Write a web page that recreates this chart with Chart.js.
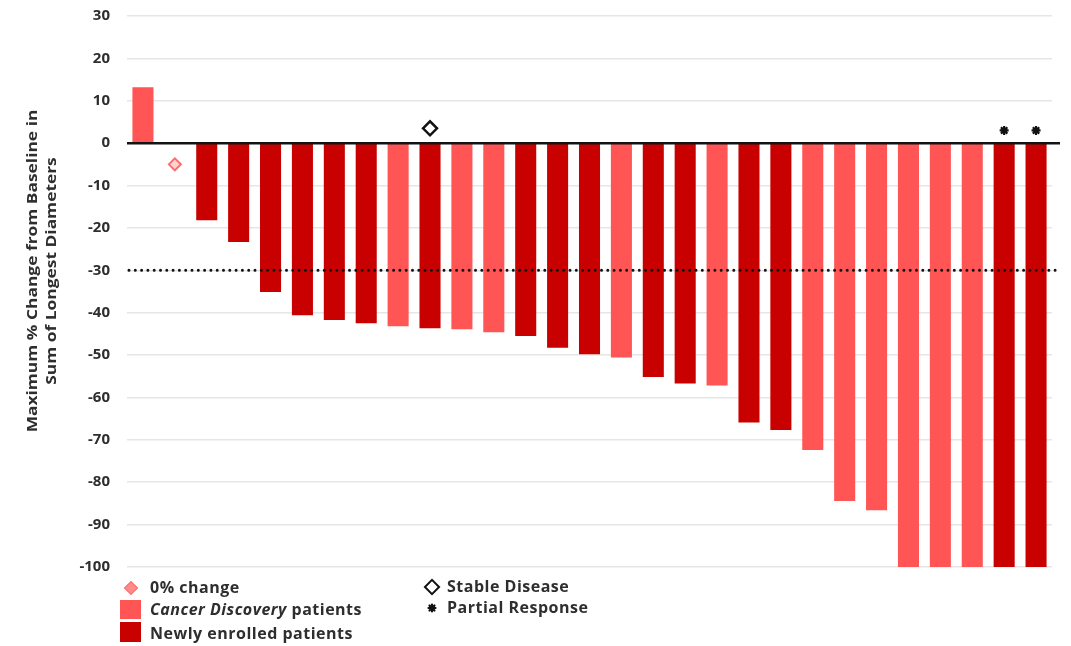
<!DOCTYPE html>
<html>
<head>
<meta charset="utf-8">
<script src="https://cdn.jsdelivr.net/npm/chart.js@4.4.1/dist/chart.umd.min.js"></script>
<style>
  body { margin: 0; background: #fff; }
  #wrap { position: relative; width: 1071px; height: 646px; overflow: hidden;
          font-family: "Open Sans", Lato, sans-serif; font-weight: 700; color: #2e2e2e; }
  #chart { position: absolute; left: 0; top: 0; }
  .ytitle { position: absolute; left: -158px; top: 251px; width: 400px; height: 40px;
            font-size: 14px; line-height: 19px; text-align: center; white-space: nowrap;
            transform: rotate(-90deg) scaleX(1.24); }
  .lg { position: absolute; font-size: 16px; line-height: 18px; letter-spacing: 0.5px; white-space: nowrap; }
  .sw { position: absolute; }
</style>
</head>
<body>
<div id="wrap">
  <canvas id="chart" width="1071" height="646"></canvas>
  <div class="ytitle">Maximum % Change from Baseline in<br>Sum of Longest Diameters</div>

  <div class="sw" style="left:126px;top:583px;width:8px;height:8px;background:#ff8a8a;border:1.5px solid #ff6b6b;transform:rotate(45deg);"></div>
  <div class="lg" style="left:150px;top:578px;">0% change</div>
  <div class="sw" style="left:120px;top:600px;width:21px;height:19px;background:#ff5555;"></div>
  <div class="lg" style="left:150px;top:600px;"><i>Cancer Discovery</i> patients</div>
  <div class="sw" style="left:120px;top:622px;width:21px;height:20px;background:#c80000;"></div>
  <div class="lg" style="left:150px;top:624px;">Newly enrolled patients</div>

  <div class="sw" style="left:426px;top:581px;width:8px;height:8px;background:#fff;border:2.5px solid #111;transform:rotate(45deg);"></div>
  <div class="lg" style="left:447px;top:577px;">Stable Disease</div>
  <svg class="sw" style="left:427px;top:603px;" width="10" height="10" viewBox="0 0 10 10">
    <g stroke="#111" stroke-width="2.2" stroke-linecap="round">
      <line x1="5" y1="1.5" x2="5" y2="8.5"/><line x1="1.5" y1="5" x2="8.5" y2="5"/>
      <line x1="2.5" y1="2.5" x2="7.5" y2="7.5"/><line x1="7.5" y1="2.5" x2="2.5" y2="7.5"/>
    </g>
  </svg>
  <div class="lg" style="left:447px;top:598px;">Partial Response</div>
</div>

<script>
// Patients, ordered by best response
const patients = ['1','2','3','4','5','6','7','8','9','10','11','12','13','14','15',
                  '16','17','18','19','20','21','22','23','24','25','26','27','28','29'];

// Maximum % change from baseline in sum of longest diameters
const maxChange = [13.2, 0, -18.2, -23.3, -35.1, -40.6, -41.7, -42.5, -43.2, -43.7,
                   -43.9, -44.6, -45.5, -48.3, -49.8, -50.6, -55.2, -56.7, -57.2, -65.9,
                   -67.7, -72.4, -84.4, -86.6, -100, -100, -100, -100, -100];

// CD = Cancer Discovery patients, NE = newly enrolled patients
const cohort = ['CD','CD','NE','NE','NE','NE','NE','NE','CD','NE',
                'CD','CD','NE','NE','NE','CD','NE','NE','CD','NE',
                'NE','CD','CD','CD','CD','CD','CD','NE','NE'];

// Patients flagged with a response marker
const zeroChangePatients = ['2'];
const stableDiseasePatients = ['10'];
const partialResponsePatients = ['28', '29'];

// Value axis ticks and the partial-response threshold
const yTicks = [30, 20, 10, 0, -10, -20, -30, -40, -50, -60, -70, -80, -90, -100];
const responseThreshold = -30;

const COLORS = { CD: '#ff5555', NE: '#c80000' };

// marker heights, in axis units
const MARK_Y = { zero: -5, stable: 3.5, partial: 3 };

function markerSeries(list, level) {
  return patients.map(p => (list.includes(p) ? level : null));
}

const refLines = {
  id: 'refLines',
  afterDatasetsDraw(chart) {
    const { ctx, chartArea, scales } = chart;
    const y0 = scales.y.getPixelForValue(0);
    const yT = scales.y.getPixelForValue(responseThreshold);
    ctx.save();
    // dotted response threshold
    ctx.strokeStyle = '#111';
    ctx.lineWidth = 3;
    ctx.lineCap = 'round';
    ctx.setLineDash([0, 6.3]);
    ctx.beginPath();
    ctx.moveTo(chartArea.left + 2, yT);
    ctx.lineTo(chartArea.right + 5, yT);
    ctx.stroke();
    // baseline at 0 %
    ctx.setLineDash([]);
    ctx.lineCap = 'butt';
    ctx.lineWidth = 2.5;
    ctx.strokeStyle = '#141414';
    ctx.beginPath();
    ctx.moveTo(chartArea.left, y0);
    ctx.lineTo(chartArea.right + 8, y0);
    ctx.stroke();
    ctx.restore();
  }
};

new Chart(document.getElementById('chart'), {
  data: {
    labels: patients,
    datasets: [
      {
        type: 'bar',
        data: maxChange,
        backgroundColor: cohort.map(c => COLORS[c]),
        borderWidth: 0,
        barPercentage: 0.66,
        categoryPercentage: 1.0,
        order: 2
      },
      {
        type: 'line',
        data: markerSeries(zeroChangePatients, MARK_Y.zero),
        showLine: false,
        pointStyle: 'rectRot',
        pointRadius: 6,
        pointBackgroundColor: '#ffd2d2',
        pointBorderColor: '#ff6b6b',
        pointBorderWidth: 2,
        order: 1
      },
      {
        type: 'line',
        data: markerSeries(stableDiseasePatients, MARK_Y.stable),
        showLine: false,
        pointStyle: 'rectRot',
        pointRadius: 7,
        pointBackgroundColor: '#ffffff',
        pointBorderColor: '#111111',
        pointBorderWidth: 2.5,
        order: 1
      },
      {
        type: 'line',
        data: markerSeries(partialResponsePatients, MARK_Y.partial),
        showLine: false,
        pointStyle: 'star',
        pointRadius: 4.5,
        pointBorderColor: '#111111',
        pointBackgroundColor: '#111111',
        pointBorderWidth: 2.2,
        order: 1
      }
    ]
  },
  options: {
    responsive: false,
    animation: false,
    events: [],
    layout: { padding: { top: 16, right: 19, bottom: 79, left: 0 } },
    plugins: { legend: { display: false }, tooltip: { enabled: false } },
    scales: {
      x: { display: false },
      y: {
        min: Math.min(...yTicks),
        max: Math.max(...yTicks),
        afterFit(scale) {
          scale.width = 127;
          // the outer layout padding already leaves room for the end labels
          scale.paddingTop = 0;
          scale.paddingBottom = 0;
        },
        afterBuildTicks(scale) { scale.ticks = yTicks.map(v => ({ value: v })); },
        border: { display: false },
        grid: { color: '#e6e6e6', lineWidth: 1.5, drawTicks: false },
        ticks: {
          padding: 17,
          color: '#2e2e2e',
          font: { family: 'Open Sans', weight: 'bold', size: 15 }
        }
      }
    }
  },
  plugins: [refLines]
});
</script>
</body>
</html>
